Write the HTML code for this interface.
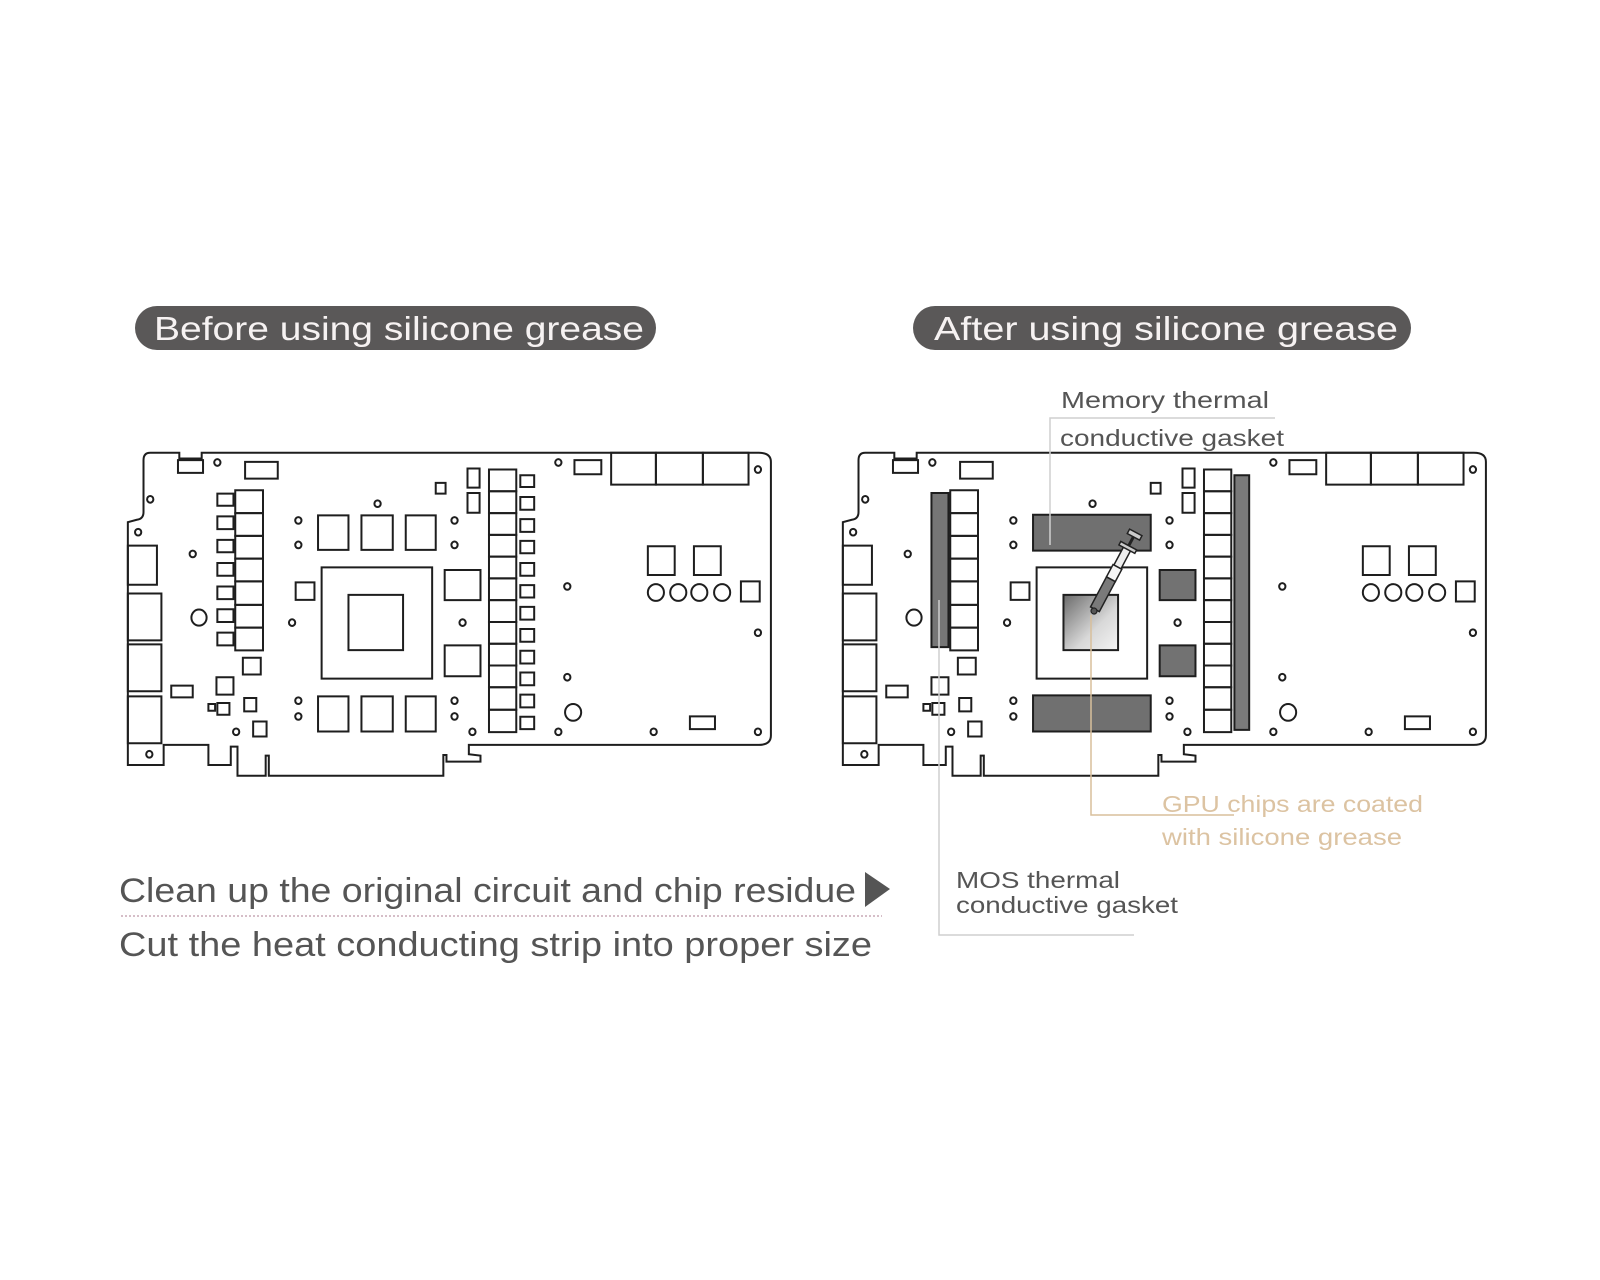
<!DOCTYPE html>
<html><head><meta charset="utf-8"><style>
html,body{margin:0;padding:0;background:#fff;}
svg{display:block;}
text{font-family:"Liberation Sans","DejaVu Sans",sans-serif;}
</style></head><body>
<svg width="1600" height="1280" viewBox="0 0 1600 1280" xmlns="http://www.w3.org/2000/svg">
<defs>
<linearGradient id="gpu" x1="0" y1="0" x2="1" y2="1">
<stop offset="0" stop-color="#6a6a6a"/><stop offset="0.6" stop-color="#d8d8d8"/><stop offset="1" stop-color="#f4f4f4"/>
</linearGradient>
<g id="base" fill="none" stroke="#1e1e1e" stroke-width="2">
<path vector-effect="non-scaling-stroke" d="M110 68 L175 68 L175 85 L225 85 L225 68 L1470 68 Q1497 68 1497 95 L1497 912 Q1497 940 1470 940 L822 940 L822 968 L848 972 L848 990 L772 990 L772 970 L765 970 L765 1032 L375 1032 L375 972 L368 972 L368 1032 L305 1032 L305 945 L290 945 L290 1000 L240 1000 L240 940 L140 940 L140 1000 L60 1000 L60 275 L80 268 Q95 265 95 245 L95 90 Q95 68 110 68 Z"/>
<g vector-effect="non-scaling-stroke">
<rect vector-effect="non-scaling-stroke" x="60" y="345" width="65" height="117"/>
<rect vector-effect="non-scaling-stroke" x="60" y="488" width="75" height="140"/>
<rect vector-effect="non-scaling-stroke" x="60" y="640" width="75" height="140"/>
<rect vector-effect="non-scaling-stroke" x="60" y="795" width="75" height="140"/>
<rect vector-effect="non-scaling-stroke" x="172" y="90" width="56" height="38"/>
<rect vector-effect="non-scaling-stroke" x="322" y="95" width="73" height="50"/>
<rect vector-effect="non-scaling-stroke" x="1058" y="90" width="60" height="42"/>
<rect vector-effect="non-scaling-stroke" x="1140" y="68" width="100" height="95"/>
<rect vector-effect="non-scaling-stroke" x="1240" y="68" width="105" height="95"/>
<rect vector-effect="non-scaling-stroke" x="1345" y="68" width="102" height="95"/>
<rect vector-effect="non-scaling-stroke" x="300" y="180" width="62" height="68"/>
<rect vector-effect="non-scaling-stroke" x="300" y="248" width="62" height="68"/>
<rect vector-effect="non-scaling-stroke" x="300" y="316" width="62" height="68"/>
<rect vector-effect="non-scaling-stroke" x="300" y="384" width="62" height="68"/>
<rect vector-effect="non-scaling-stroke" x="300" y="452" width="62" height="70"/>
<rect vector-effect="non-scaling-stroke" x="300" y="522" width="62" height="68"/>
<rect vector-effect="non-scaling-stroke" x="300" y="590" width="62" height="68"/>
<rect vector-effect="non-scaling-stroke" x="317" y="680" width="40" height="50"/>
<rect vector-effect="non-scaling-stroke" x="258" y="738" width="38" height="52"/>
<rect vector-effect="non-scaling-stroke" x="157" y="763" width="48" height="35"/>
<rect vector-effect="non-scaling-stroke" x="320" y="800" width="27" height="40"/>
<rect vector-effect="non-scaling-stroke" x="240" y="818" width="15" height="20"/>
<rect vector-effect="non-scaling-stroke" x="260" y="815" width="27" height="35"/>
<rect vector-effect="non-scaling-stroke" x="340" y="870" width="30" height="45"/>
<rect vector-effect="non-scaling-stroke" x="493" y="410" width="247" height="332"/>
<rect vector-effect="non-scaling-stroke" x="435" y="455" width="42" height="52"/>
<rect vector-effect="non-scaling-stroke" x="748" y="158" width="22" height="32"/>
<rect vector-effect="non-scaling-stroke" x="819" y="115" width="27" height="57"/>
<rect vector-effect="non-scaling-stroke" x="819" y="188" width="27" height="59"/>
<rect vector-effect="non-scaling-stroke" x="1222" y="347" width="60" height="86"/>
<rect vector-effect="non-scaling-stroke" x="1325" y="347" width="60" height="86"/>
<rect vector-effect="non-scaling-stroke" x="1430" y="452" width="42" height="60"/>
<rect vector-effect="non-scaling-stroke" x="1316" y="855" width="56" height="38"/>
</g>
<g>
<rect vector-effect="non-scaling-stroke" x="867" y="118" width="61" height="65"/>
<rect vector-effect="non-scaling-stroke" x="867" y="183" width="61" height="65"/>
<rect vector-effect="non-scaling-stroke" x="867" y="248" width="61" height="65"/>
<rect vector-effect="non-scaling-stroke" x="867" y="313" width="61" height="65"/>
<rect vector-effect="non-scaling-stroke" x="867" y="378" width="61" height="65"/>
<rect vector-effect="non-scaling-stroke" x="867" y="443" width="61" height="65"/>
<rect vector-effect="non-scaling-stroke" x="867" y="508" width="61" height="65"/>
<rect vector-effect="non-scaling-stroke" x="867" y="573" width="61" height="65"/>
<rect vector-effect="non-scaling-stroke" x="867" y="638" width="61" height="65"/>
<rect vector-effect="non-scaling-stroke" x="867" y="703" width="61" height="65"/>
<rect vector-effect="non-scaling-stroke" x="867" y="768" width="61" height="67"/>
<rect vector-effect="non-scaling-stroke" x="867" y="835" width="61" height="67"/>
</g>
<g>
<ellipse vector-effect="non-scaling-stroke" cx="260" cy="97" rx="7" ry="10"/>
<ellipse vector-effect="non-scaling-stroke" cx="1022" cy="97" rx="7" ry="10"/>
<ellipse vector-effect="non-scaling-stroke" cx="1468" cy="118" rx="7" ry="10"/>
<ellipse vector-effect="non-scaling-stroke" cx="110" cy="207" rx="7" ry="10"/>
<ellipse vector-effect="non-scaling-stroke" cx="83" cy="305" rx="7" ry="10"/>
<ellipse vector-effect="non-scaling-stroke" cx="205" cy="370" rx="7" ry="10"/>
<ellipse vector-effect="non-scaling-stroke" cx="219" cy="560" rx="17" ry="24"/>
<ellipse vector-effect="non-scaling-stroke" cx="302" cy="901" rx="7" ry="10"/>
<ellipse vector-effect="non-scaling-stroke" cx="108" cy="968" rx="7" ry="10"/>
<ellipse vector-effect="non-scaling-stroke" cx="441" cy="270" rx="7" ry="10"/>
<ellipse vector-effect="non-scaling-stroke" cx="441" cy="343" rx="7" ry="10"/>
<ellipse vector-effect="non-scaling-stroke" cx="790" cy="270" rx="7" ry="10"/>
<ellipse vector-effect="non-scaling-stroke" cx="790" cy="343" rx="7" ry="10"/>
<ellipse vector-effect="non-scaling-stroke" cx="441" cy="808" rx="7" ry="10"/>
<ellipse vector-effect="non-scaling-stroke" cx="441" cy="855" rx="7" ry="10"/>
<ellipse vector-effect="non-scaling-stroke" cx="790" cy="808" rx="7" ry="10"/>
<ellipse vector-effect="non-scaling-stroke" cx="790" cy="855" rx="7" ry="10"/>
<ellipse vector-effect="non-scaling-stroke" cx="618" cy="220" rx="7" ry="10"/>
<ellipse vector-effect="non-scaling-stroke" cx="427" cy="575" rx="7" ry="10"/>
<ellipse vector-effect="non-scaling-stroke" cx="808" cy="575" rx="7" ry="10"/>
<ellipse vector-effect="non-scaling-stroke" cx="830" cy="901" rx="7" ry="10"/>
<ellipse vector-effect="non-scaling-stroke" cx="1042" cy="467" rx="7" ry="10"/>
<ellipse vector-effect="non-scaling-stroke" cx="1468" cy="605" rx="7" ry="10"/>
<ellipse vector-effect="non-scaling-stroke" cx="1042" cy="738" rx="7" ry="10"/>
<ellipse vector-effect="non-scaling-stroke" cx="1055" cy="843" rx="18" ry="25"/>
<ellipse vector-effect="non-scaling-stroke" cx="1022" cy="901" rx="7" ry="10"/>
<ellipse vector-effect="non-scaling-stroke" cx="1235" cy="901" rx="7" ry="10"/>
<ellipse vector-effect="non-scaling-stroke" cx="1468" cy="901" rx="7" ry="10"/>
<ellipse vector-effect="non-scaling-stroke" cx="1240" cy="485" rx="18" ry="25"/>
<ellipse vector-effect="non-scaling-stroke" cx="1290" cy="485" rx="18" ry="25"/>
<ellipse vector-effect="non-scaling-stroke" cx="1337" cy="485" rx="18" ry="25"/>
<ellipse vector-effect="non-scaling-stroke" cx="1388" cy="485" rx="18" ry="25"/>
</g>
</g>
<g id="leftonly" fill="none" stroke="#1e1e1e" stroke-width="2">
<rect vector-effect="non-scaling-stroke" x="260" y="190" width="36" height="36"/>
<rect vector-effect="non-scaling-stroke" x="260" y="258" width="36" height="38"/>
<rect vector-effect="non-scaling-stroke" x="260" y="328" width="36" height="37"/>
<rect vector-effect="non-scaling-stroke" x="260" y="397" width="36" height="38"/>
<rect vector-effect="non-scaling-stroke" x="260" y="467" width="36" height="38"/>
<rect vector-effect="non-scaling-stroke" x="260" y="535" width="36" height="38"/>
<rect vector-effect="non-scaling-stroke" x="260" y="605" width="36" height="38"/>
<rect vector-effect="non-scaling-stroke" x="485" y="255" width="68" height="103"/>
<rect vector-effect="non-scaling-stroke" x="582" y="255" width="70" height="103"/>
<rect vector-effect="non-scaling-stroke" x="681" y="255" width="67" height="103"/>
<rect vector-effect="non-scaling-stroke" x="485" y="795" width="68" height="105"/>
<rect vector-effect="non-scaling-stroke" x="582" y="795" width="70" height="105"/>
<rect vector-effect="non-scaling-stroke" x="681" y="795" width="67" height="105"/>
<rect vector-effect="non-scaling-stroke" x="553" y="492" width="122" height="165"/>
<rect vector-effect="non-scaling-stroke" x="768" y="418" width="80" height="90"/>
<rect vector-effect="non-scaling-stroke" x="768" y="643" width="80" height="92"/>
<rect vector-effect="non-scaling-stroke" x="937" y="135" width="31" height="35"/>
<rect vector-effect="non-scaling-stroke" x="937" y="200" width="31" height="38"/>
<rect vector-effect="non-scaling-stroke" x="937" y="266" width="31" height="38"/>
<rect vector-effect="non-scaling-stroke" x="937" y="331" width="31" height="37"/>
<rect vector-effect="non-scaling-stroke" x="937" y="397" width="31" height="38"/>
<rect vector-effect="non-scaling-stroke" x="937" y="463" width="31" height="37"/>
<rect vector-effect="non-scaling-stroke" x="937" y="528" width="31" height="38"/>
<rect vector-effect="non-scaling-stroke" x="937" y="594" width="31" height="38"/>
<rect vector-effect="non-scaling-stroke" x="937" y="659" width="31" height="38"/>
<rect vector-effect="non-scaling-stroke" x="937" y="724" width="31" height="38"/>
<rect vector-effect="non-scaling-stroke" x="937" y="790" width="31" height="38"/>
<rect vector-effect="non-scaling-stroke" x="937" y="856" width="31" height="37"/>
</g>
<g id="rightonly" stroke="#1e1e1e" stroke-width="2">
<rect vector-effect="non-scaling-stroke" x="258" y="188" width="38" height="460" fill="#767676"/>
<rect vector-effect="non-scaling-stroke" x="485" y="253" width="263" height="107" fill="#707070"/>
<rect vector-effect="non-scaling-stroke" x="485" y="792" width="263" height="108" fill="#707070"/>
<rect vector-effect="non-scaling-stroke" x="553" y="492" width="122" height="165" fill="url(#gpu)"/>
<rect vector-effect="non-scaling-stroke" x="768" y="418" width="80" height="90" fill="#727272"/>
<rect vector-effect="non-scaling-stroke" x="768" y="643" width="80" height="92" fill="#727272"/>
<rect vector-effect="non-scaling-stroke" x="935" y="135" width="33" height="760" fill="#7a7a7a"/>
</g>
</defs>

<!-- pills -->
<rect x="135" y="306" width="521" height="44" rx="22" fill="#5a5858"/>
<text x="154" y="340" font-size="33" fill="#f6f2f2" textLength="490" lengthAdjust="spacingAndGlyphs">Before using silicone grease</text>
<rect x="913" y="306" width="498" height="44" rx="22" fill="#5a5858"/>
<text x="934" y="340" font-size="33" fill="#f6f2f2" textLength="464" lengthAdjust="spacingAndGlyphs">After using silicone grease</text>

<!-- left board -->
<g transform="translate(101,430) scale(0.4475,0.335)">
<use href="#base"/><use href="#leftonly"/>
</g>
<!-- right board -->
<g transform="translate(816,430) scale(0.4475,0.335)">
<use href="#base"/><use href="#rightonly"/>
</g>

<!-- syringe -->
<g transform="translate(1094,611) rotate(-62)">
<rect x="2" y="-5" width="34" height="10" fill="#7a7a7a" stroke="#222" stroke-width="1.5"/>
<rect x="36" y="-5" width="14" height="10" fill="#f4f4f4" stroke="#222" stroke-width="1.5"/>
<rect x="50" y="-4" width="22" height="8" fill="#eee" stroke="#222" stroke-width="1.5"/>
<rect x="70" y="-9" width="4" height="18" fill="#ccc" stroke="#222" stroke-width="1.5"/>
<line x1="74" y1="0" x2="84" y2="0" stroke="#222" stroke-width="3"/>
<rect x="84" y="-7" width="5" height="14" fill="#ccc" stroke="#222" stroke-width="1.5"/>
<circle cx="0" cy="0" r="3" fill="#555" stroke="#222" stroke-width="1.2"/>
</g>

<!-- leader lines -->
<polyline points="1050,545 1050,418 1275,418" fill="none" stroke="#cfcfcf" stroke-width="1.5"/>
<polyline points="939,600 939,935 1134,935" fill="none" stroke="#cfcfcf" stroke-width="1.5"/>
<polyline points="1091,615 1091,815 1234,815" fill="none" stroke="#d8bf9c" stroke-width="1.5"/>

<!-- labels -->
<g font-size="23" fill="#555">
<text x="1061" y="408" textLength="208" lengthAdjust="spacingAndGlyphs">Memory thermal</text>
<text x="1060" y="446" textLength="224" lengthAdjust="spacingAndGlyphs">conductive gasket</text>
<text x="956" y="888" textLength="164" lengthAdjust="spacingAndGlyphs">MOS thermal</text>
<text x="956" y="913" textLength="222" lengthAdjust="spacingAndGlyphs">conductive gasket</text>
</g>
<g font-size="23" fill="#dcc3a2">
<text x="1162" y="812" textLength="261" lengthAdjust="spacingAndGlyphs">GPU chips are coated</text>
<text x="1162" y="845" textLength="240" lengthAdjust="spacingAndGlyphs">with silicone grease</text>
</g>

<!-- bottom instructions -->
<text x="119" y="902" font-size="34" fill="#555" textLength="737" lengthAdjust="spacingAndGlyphs">Clean up the original circuit and chip residue</text>
<polygon points="865,872 890,889 865,907" fill="#555"/>
<line x1="121" y1="916" x2="882" y2="916" stroke="#c9a9b6" stroke-width="1.5" stroke-dasharray="2,2"/>
<text x="119" y="956" font-size="34" fill="#555" textLength="753" lengthAdjust="spacingAndGlyphs">Cut the heat conducting strip into proper size</text>
</svg>
</body></html>
